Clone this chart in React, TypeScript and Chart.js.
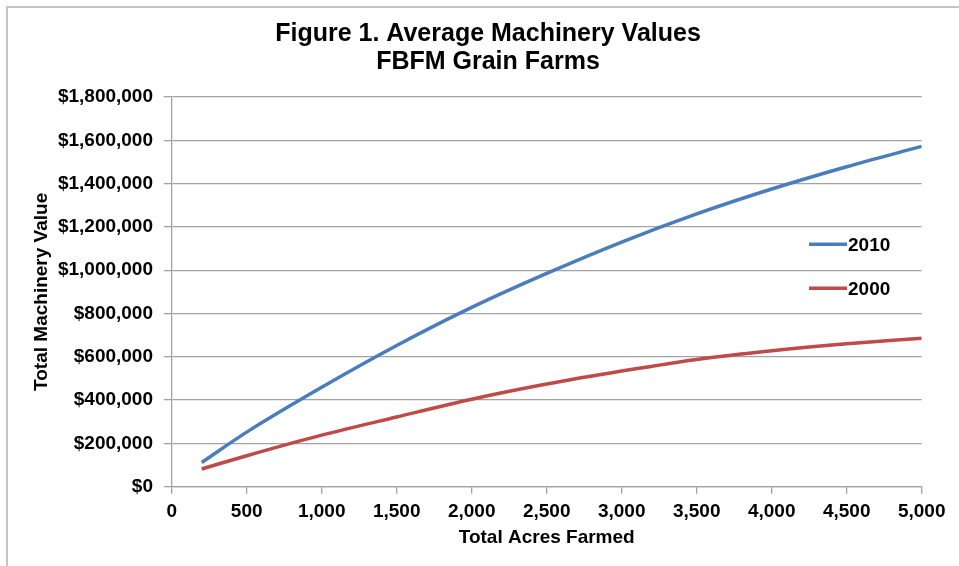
import React, { useEffect, useRef } from "react";
import { Chart, registerables } from "chart.js";

Chart.register(...registerables);

const acres = [200, 500, 1000, 1500, 2000, 2500, 3000, 3500, 4000, 4500, 5000];
const values2010 = [112000, 252000, 459000, 652000, 828000, 985000, 1130000, 1260000, 1375000, 1478000, 1572000];
const values2000 = [82000, 143000, 238000, 322000, 404000, 474000, 534000, 588000, 628000, 660000, 686000];
const seriesLabels = ["2010", "2000"];
const titleLines = ["Figure 1. Average Machinery Values", "FBFM Grain Farms"];
const xTitle = "Total Acres Farmed";
const yTitle = "Total Machinery Value";

const FONT = "'Liberation Sans', Arial, sans-serif";
const GRID = "#a3a3a3";

const fmt = (v: number) => Math.round(v).toLocaleString("en-US");

const titlePlugin = {
  id: "centeredTitle",
  afterDraw(chart: any) {
    const ctx = chart.ctx;
    ctx.save();
    ctx.fillStyle = "#000";
    ctx.font = `bold 25px ${FONT}`;
    ctx.textAlign = "center";
    ctx.textBaseline = "middle";
    const ys = [34.5, 62.5];
    titleLines.forEach((t, i) => ctx.fillText(t, 488, ys[i]));
    ctx.restore();
  },
};

const legendPlugin = {
  id: "insideLegend",
  afterDraw(chart: any) {
    const ctx = chart.ctx;
    const startX = 809;
    const lineLen = 38;
    const ys = [244.3, 288.3];
    chart.data.datasets.forEach((ds: any, i: number) => {
      const y = ys[i];
      ctx.save();
      ctx.strokeStyle = ds.borderColor;
      ctx.lineWidth = 3.5;
      ctx.beginPath();
      ctx.moveTo(startX, y);
      ctx.lineTo(startX + lineLen, y);
      ctx.stroke();
      ctx.fillStyle = "#000";
      ctx.font = `bold 19px ${FONT}`;
      ctx.textBaseline = "middle";
      ctx.textAlign = "left";
      ctx.fillText(ds.label, startX + lineLen + 1, y + 1);
      ctx.restore();
    });
  },
};

export default function App() {
  const ref = useRef<HTMLCanvasElement | null>(null);

  useEffect(() => {
    if (!ref.current) return;
    const chart = new Chart(ref.current, {
      type: "line",
      data: {
        datasets: [
          {
            label: seriesLabels[0],
            data: acres.map((a, i) => ({ x: a, y: values2010[i] })),
            borderColor: "#4a7ebb",
            borderWidth: 3.5,
            pointRadius: 0,
            cubicInterpolationMode: "monotone",
            fill: false,
          },
          {
            label: seriesLabels[1],
            data: acres.map((a, i) => ({ x: a, y: values2000[i] })),
            borderColor: "#be4b48",
            borderWidth: 3.5,
            pointRadius: 0,
            cubicInterpolationMode: "monotone",
            fill: false,
          },
        ],
      },
      options: {
        animation: false,
        responsive: true,
        maintainAspectRatio: false,
        layout: { padding: { left: 0, right: 37.3, top: 97, bottom: 0 } },
        plugins: {
          legend: { display: false },
          tooltip: { enabled: false },
          title: { display: false },
        },
        scales: {
          x: {
            type: "linear",
            min: 0,
            max: 5000,
            afterFit: (s: any) => {
              s.height = 79.3;
            },
            ticks: {
              stepSize: 500,
              color: "#000",
              padding: 6.6,
              maxRotation: 0,
              font: { family: FONT, size: 19, weight: "bold" },
              callback: (v: any) => fmt(Number(v)),
            },
            grid: {
              drawOnChartArea: false,
              drawTicks: true,
              tickLength: 7,
              color: GRID,
              lineWidth: 1.3,
            },
            border: { display: true, color: GRID, width: 1.3 },
            title: {
              display: true,
              text: xTitle,
              color: "#000",
              font: { family: FONT, size: 19, weight: "bold" },
              padding: { top: 0, bottom: 17.3 },
            },
          },
          y: {
            type: "linear",
            min: 0,
            max: 1800000,
            afterFit: (s: any) => {
              s.width = 171.7;
            },
            ticks: {
              stepSize: 200000,
              color: "#000",
              padding: 10.7,
              font: { family: FONT, size: 19, weight: "bold" },
              callback: (v: any) => "$" + fmt(Number(v)),
            },
            grid: {
              drawOnChartArea: true,
              drawTicks: true,
              tickLength: 8,
              color: GRID,
              lineWidth: 1.3,
            },
            border: { display: true, color: GRID, width: 1.3 },
            title: {
              display: true,
              text: yTitle,
              color: "#000",
              font: { family: FONT, size: 19, weight: "bold" },
              padding: { top: 30.3, bottom: 0 },
            },
          },
        },
      },
      plugins: [titlePlugin, legendPlugin],
    });
    return () => chart.destroy();
  }, []);

  return (
    <div
      style={{
        position: "absolute",
        left: 0,
        top: 0,
        width: 959,
        height: 566,
        background: "#fff",
      }}
    >
      <div
        style={{
          position: "absolute",
          left: 6,
          top: 6,
          right: 0,
          bottom: 0,
          borderTop: "2px solid #c4c4c4",
          borderLeft: "2px solid #c4c4c4",
          pointerEvents: "none",
        }}
      />
      <canvas ref={ref} style={{ position: "absolute", left: 0, top: 0, width: 959, height: 566 }} />
    </div>
  );
}
